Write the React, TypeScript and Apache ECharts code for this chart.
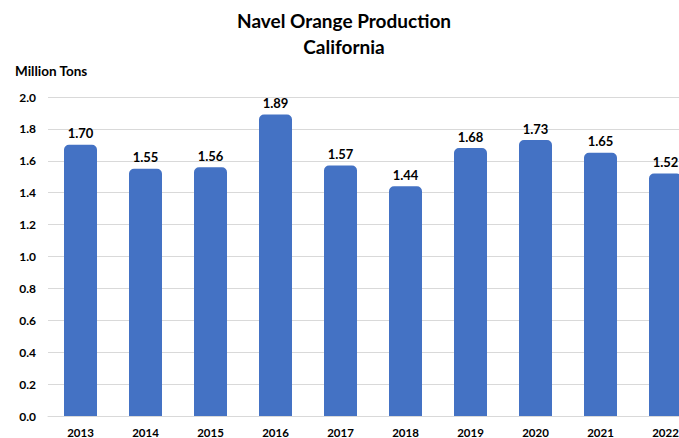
import React, { useEffect, useRef } from "react";
import * as echarts from "echarts";

const years = ["2013", "2014", "2015", "2016", "2017", "2018", "2019", "2020", "2021", "2022"];
const production = [1.7, 1.55, 1.56, 1.89, 1.57, 1.44, 1.68, 1.73, 1.65, 1.52];
const titleLines = ["Navel Orange Production", "California"];
const unitLabel = "Million Tons";

const FONT = "Lato, 'Open Sans', sans-serif";

export default function App() {
  const ref = useRef<HTMLDivElement>(null);
  useEffect(() => {
    if (!ref.current) return;
    const chart = echarts.init(ref.current, undefined, { renderer: "svg" });
    chart.setOption({
      animation: false,
      backgroundColor: "#ffffff",
      title: {
        text: titleLines.join("\n"),
        left: 339,
        top: 2,
        textAlign: "center",
        textStyle: { fontFamily: FONT, fontSize: 19, fontWeight: "bold", color: "#000", lineHeight: 26 },
      },
      graphic: [
        {
          type: "text",
          left: 15,
          top: 64,
          style: { text: unitLabel, font: `bold 13.5px ${FONT}`, fill: "#000" },
        },
      ],
      grid: { left: 48, width: 650, top: 97, height: 320 },
      xAxis: {
        type: "category",
        data: years,
        axisLine: { show: true, lineStyle: { color: "#d9d9d9" } },
        axisTick: { show: false },
        axisLabel: { fontFamily: FONT, fontSize: 11.5, fontWeight: "bold", color: "#000", margin: 10 },
      },
      yAxis: {
        type: "value",
        min: 0,
        max: 2,
        interval: 0.2,
        axisLabel: {
          fontFamily: FONT,
          fontSize: 12,
          fontWeight: "bold",
          color: "#000",
          margin: 12,
          formatter: (v: number) => v.toFixed(1),
        },
        splitLine: { lineStyle: { color: "#d9d9d9" } },
        axisLine: { show: false },
        axisTick: { show: false },
      },
      series: [
        {
          type: "bar",
          data: production,
          barWidth: 33,
          itemStyle: { color: "#4472C4", borderRadius: [4, 4, 0, 0], borderColor: "#4472C4", borderWidth: 2 },
          label: {
            show: true,
            position: "top",
            distance: 5,
            fontFamily: FONT,
            fontSize: 13,
            fontWeight: "bold",
            color: "#000",
            formatter: (p: any) => p.value.toFixed(2),
          },
        },
      ],
    });
    return () => chart.dispose();
  }, []);
  return (
    <div style={{ position: "fixed", left: 0, top: 0, width: 679, height: 438, overflow: "hidden", background: "#fff" }}>
      <div ref={ref} style={{ width: 700, height: 438 }} />
    </div>
  );
}
